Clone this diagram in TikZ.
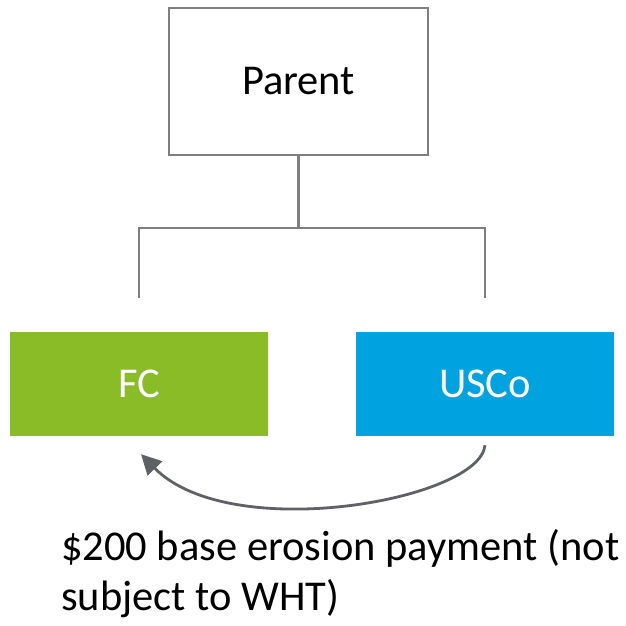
\documentclass[tikz,border=0pt]{standalone}
\usepackage{fontspec}
\setmainfont{Carlito}
\usetikzlibrary{arrows.meta}

\definecolor{fcgreen}{HTML}{8ABC28}
\definecolor{uscoblue}{HTML}{00A3E0}
\definecolor{treegray}{HTML}{7F7F7F}
\definecolor{arrowgray}{HTML}{5F6166}

\begin{document}
\begin{tikzpicture}[
    x=1pt, y=-1pt,
    entity/.style={draw=treegray, line width=2.4pt, fill=white,
                   minimum width=259pt, minimum height=147pt,
                   font=\fontsize{42.5}{50}\selectfont},
    company/.style={minimum width=258pt, minimum height=104pt,
                    text=white, inner sep=0pt,
                    font=\fontsize{42.5}{50}\selectfont},
    link/.style={treegray, line width=2.4pt},
    payment/.style={arrowgray, line width=2.8pt,
                    -{Triangle[length=20pt, width=20pt]}},
    note/.style={align=left, inner sep=0pt,
                 font=\fontsize{42.5}{50}\selectfont}
]
\useasboundingbox (0,0) rectangle (626,625);

% ---------- entities ----------
\node[entity] (parent) at (298.5,81.5) {Parent};
\node[company, fill=fcgreen] (fc) at (139,384) {FC};
\node[company, fill=uscoblue] (usco) at (485,384) {USCo};

% ---------- ownership ----------
\coordinate (split) at (298.5,228);
\coordinate (fcup) at (139,298);
\coordinate (uscoup) at (485,298);
\draw[link] (parent.south) -- (split);
\draw[link] (fcup) |- (split) -| (uscoup);

% ---------- payment ----------
\draw[payment] ([yshift=-9pt]usco.south)
   .. controls (480,500) and (230,545) .. ([yshift=-18pt,xshift=2pt]fc.south);
% base of a two-line node sits on its last line
\node[note, anchor=base west] (label) at (61,610)
   {\$200 base erosion payment (not\\subject to WHT)};

\end{tikzpicture}
\end{document}
